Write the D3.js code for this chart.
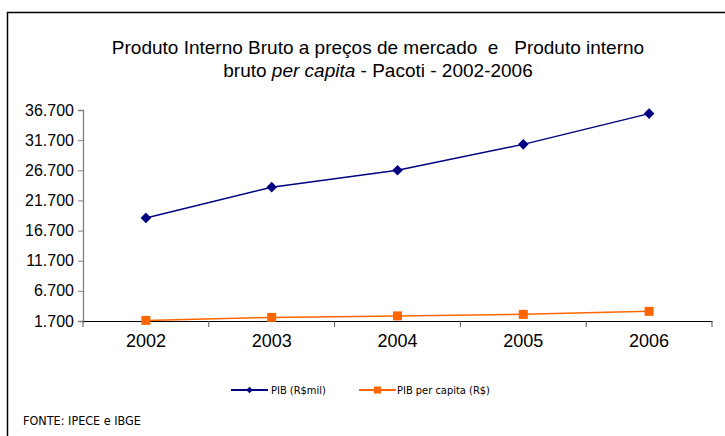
<!DOCTYPE html>
<html>
<head>
<meta charset="utf-8">
<script src="https://cdn.jsdelivr.net/npm/d3@7"></script>
<style>
  body { margin: 0; background: #fff; }
  svg { display: block; font-family: "Liberation Sans", Arial, sans-serif; }
</style>
</head>
<body>
<div id="chart"></div>
<script>
const years = ["2002", "2003", "2004", "2005", "2006"];
const pibMil = [18800, 23900, 26700, 31000, 36100];
const pibPerCapita = [1800, 2300, 2550, 2800, 3300];
const yTicks = [1700, 6700, 11700, 16700, 21700, 26700, 31700, 36700];
const seriesNames = ["PIB (R$mil)", "PIB per capita (R$)"];

const width = 725;
const height = 436;
const margin = { left: 83, right: 13, top: 110, bottom: 115 };

const svg = d3.select("#chart")
  .append("svg")
  .attr("width", width)
  .attr("height", height);

// outer frame (only left and top visible)
svg.append("path")
  .attr("d", `M7.5,${height} V12.5 H${width}`)
  .attr("fill", "none")
  .attr("stroke", "#000")
  .attr("stroke-width", 1.5);

// title
const title = svg.append("text")
  .attr("text-anchor", "middle")
  .attr("font-size", 19)
  .attr("fill", "#000")
  .attr("xml:space", "preserve");
title.append("tspan")
  .attr("x", 378).attr("y", 54)
  .text("Produto Interno Bruto a preços de mercado  e   Produto interno");
const t2 = title.append("tspan").attr("x", 378).attr("y", 77);
t2.append("tspan").text("bruto ");
t2.append("tspan").attr("font-style", "italic").text("per capita");
t2.append("tspan").text(" - Pacoti - 2002-2006");

const x = d3.scaleBand()
  .domain(years)
  .range([margin.left, width - margin.right]);

const y = d3.scaleLinear()
  .domain([1700, 36700])
  .range([height - margin.bottom, margin.top]);

// y axis
const yAxis = svg.append("g")
  .attr("transform", `translate(${margin.left},0)`)
  .call(d3.axisLeft(y)
    .tickValues(yTicks)
    .tickSize(5)
    .tickPadding(4)
    .tickFormat(d => d3.format(",")(d).replace(/,/g, ".")));
yAxis.select(".domain").attr("stroke", "#808080").attr("stroke-width", 1.3);
yAxis.selectAll(".tick line").attr("stroke", "#808080");
yAxis.selectAll("text").attr("font-size", 16).attr("fill", "#000")
  .attr("font-family", "Liberation Sans, Arial, sans-serif");

// x axis
const xAxis = svg.append("g")
  .attr("transform", `translate(0,${height - margin.bottom})`)
  .call(d3.axisBottom(x).tickSize(0).tickPadding(13));
xAxis.select(".domain").attr("stroke", "#000").attr("stroke-width", 1.2);
xAxis.selectAll("text").attr("font-size", 18).attr("fill", "#000")
  .attr("font-family", "Liberation Sans, Arial, sans-serif");

// category boundary ticks
const bounds = years.map(d => x(d)).concat([x(years[years.length - 1]) + x.bandwidth()]);
svg.append("g").selectAll("line")
  .data(bounds)
  .enter()
  .append("line")
  .attr("x1", d => d).attr("x2", d => d)
  .attr("y1", height - margin.bottom)
  .attr("y2", height - margin.bottom + 6)
  .attr("stroke", "#555")
  .attr("stroke-width", 1);

const cx = d => x(d) + x.bandwidth() / 2;

const line = d3.line()
  .x((d, i) => cx(years[i]))
  .y(d => y(d));

// PIB series
svg.append("path")
  .datum(pibMil)
  .attr("d", line)
  .attr("fill", "none")
  .attr("stroke", "#000080")
  .attr("stroke-width", 1.5);

// square diamond marker (rotated square)
const diamond = d3.symbol().type(d3.symbolSquare).size(56);
svg.append("g").selectAll("path")
  .data(pibMil)
  .enter()
  .append("path")
  .attr("d", diamond)
  .attr("transform", (d, i) => `translate(${cx(years[i])},${y(d)}) rotate(45)`)
  .attr("fill", "#000080");

// per capita series
svg.append("path")
  .datum(pibPerCapita)
  .attr("d", line)
  .attr("fill", "none")
  .attr("stroke", "#ff6600")
  .attr("stroke-width", 1.5);

svg.append("g").selectAll("rect")
  .data(pibPerCapita)
  .enter()
  .append("rect")
  .attr("x", (d, i) => cx(years[i]) - 4.5)
  .attr("y", d => y(d) - 4.5)
  .attr("width", 9)
  .attr("height", 9)
  .attr("fill", "#ff6600");

// legend
const legendItems = [
  { name: seriesNames[0], color: "#000080", shape: "diamond", x: 231, textX: 271 },
  { name: seriesNames[1], color: "#ff6600", shape: "square", x: 359, textX: 397 }
];
const legend = svg.append("g");
legendItems.forEach(d => {
  const g = legend.append("g");
  g.append("line")
    .attr("x1", d.x).attr("x2", d.x + 37)
    .attr("y1", 390).attr("y2", 390)
    .attr("stroke", d.color).attr("stroke-width", 2);
  if (d.shape === "diamond") {
    g.append("path")
      .attr("d", d3.symbol().type(d3.symbolSquare).size(22))
      .attr("transform", `translate(${d.x + 18.5},390) rotate(45)`)
      .attr("fill", d.color);
  } else {
    g.append("rect")
      .attr("x", d.x + 15).attr("y", 386.5)
      .attr("width", 7).attr("height", 7)
      .attr("fill", d.color);
  }
  g.append("text")
    .attr("x", d.textX).attr("y", 394)
    .attr("font-size", 11)
    .attr("font-family", "DejaVu Sans Condensed, Liberation Sans Narrow, sans-serif")
    .attr("fill", "#000")
    .text(d.name);
});

// source
svg.append("text")
  .attr("x", 23).attr("y", 425)
  .attr("font-size", 12.5)
  .attr("font-family", "DejaVu Sans Condensed, Liberation Sans Narrow, sans-serif")
  .attr("fill", "#000")
  .text("FONTE: IPECE e IBGE");
</script>
</body>
</html>
